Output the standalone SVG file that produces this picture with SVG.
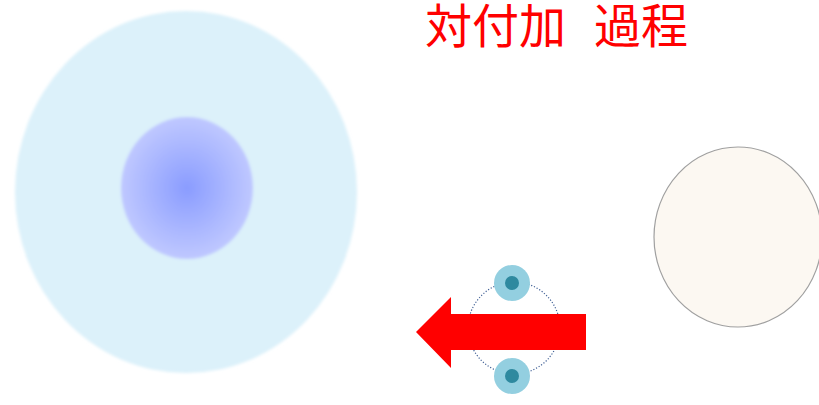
<svg xmlns="http://www.w3.org/2000/svg" width="819" height="405" viewBox="0 0 819 405">
  <defs>
    <filter id="soft" x="-10%" y="-10%" width="120%" height="120%">
      <feGaussianBlur stdDeviation="1.6"/>
    </filter>
    <radialGradient id="nucleus" cx="50%" cy="50%" r="50%">
      <stop offset="0" stop-color="#8a9cff"/>
      <stop offset="1" stop-color="#bfc8ff"/>
    </radialGradient>
  </defs>
  <style>
    .title { font-family: "Noto Sans CJK JP", "Noto Sans CJK SC", sans-serif; font-size: 47px; fill: #ff0000; }
    .orbit { fill: none; stroke: #3f5f95; stroke-width: 1.2; stroke-dasharray: 1.2 1.8; }
    .shell { fill: #93cfe0; }
    .core { fill: #2e899f; }
  </style>

  <!-- cell with nucleus -->
  <g id="cell" filter="url(#soft)">
    <ellipse cx="186" cy="192" rx="171" ry="181" fill="#dcf1fa"/>
    <ellipse cx="187" cy="188" rx="66" ry="71" fill="url(#nucleus)"/>
  </g>

  <!-- title -->
  <g id="title">
    <text class="title" x="425" y="43">対付加</text>
    <text class="title" x="594" y="43">過程</text>
  </g>

  <!-- target sphere -->
  <g id="target">
    <ellipse cx="738" cy="237" rx="84" ry="90" fill="#fcf8f2" stroke="#a0a0a0" stroke-width="1.2"/>
  </g>

  <!-- moving particle pair -->
  <g id="pair">
    <ellipse class="orbit" cx="514" cy="328" rx="46" ry="46"/>
    <path d="M586 314 H451 V297 L416 332 L451 368 V350 H586 Z" fill="#ff0000"/>
    <circle class="shell" cx="512" cy="283" r="18"/>
    <circle class="core" cx="512" cy="283" r="7"/>
    <circle class="shell" cx="512" cy="376" r="18"/>
    <circle class="core" cx="512" cy="376" r="7"/>
  </g>
</svg>
